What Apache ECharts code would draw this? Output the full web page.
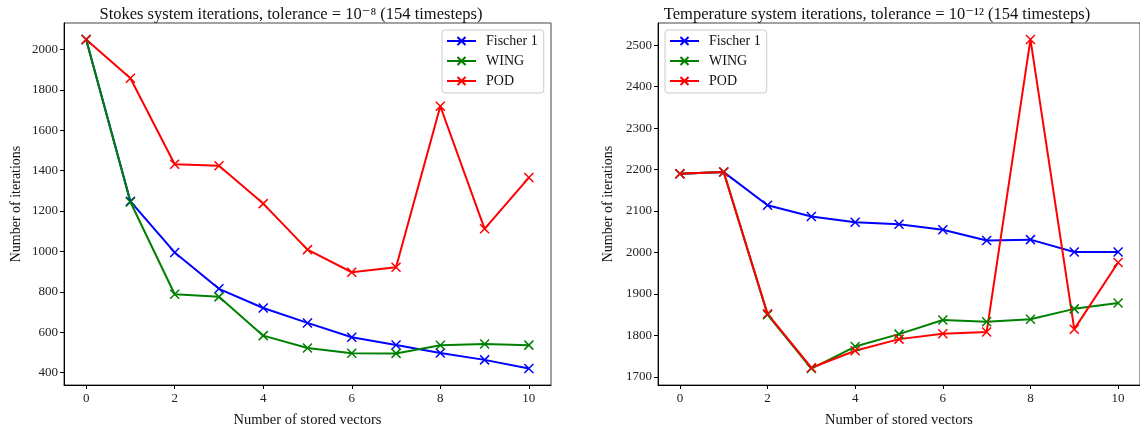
<!DOCTYPE html>
<html>
<head>
<meta charset="utf-8">
<script src="https://cdn.jsdelivr.net/npm/echarts@6/dist/echarts.min.js"></script>
<style>
  html, body { margin: 0; padding: 0; background: #fff; }
  #chart { width: 1140px; height: 434px; }
</style>
</head>
<body>
<div id="chart"></div>
<script>
// Number of stored vectors (x values shared by both panels)
var storedVectors = [0, 1, 2, 3, 4, 5, 6, 7, 8, 9, 10];

// Stokes system iterations (left panel)
var stokesFischer = [2050, 1248, 995, 815, 720, 646, 575, 537, 497, 463, 420];
var stokesWing = [2050, 1245, 788, 775, 583, 522, 496, 495, 535, 542, 536];
var stokesPod = [2050, 1858, 1432, 1424, 1237, 1009, 897, 922, 1719, 1112, 1366];

// Temperature system iterations (right panel)
var tempFischer = [2190, 2194, 2114, 2087, 2073, 2068, 2055, 2029, 2031, 2001, 2001];
var tempWing = [2190, 2194, 1850, 1720, 1773, 1803, 1837, 1833, 1839, 1864, 1878];
var tempPod = [2190, 2194, 1852, 1722, 1763, 1791, 1804, 1808, 2514, 1815, 1976];

// tick labels
var xTicks = [0, 2, 4, 6, 8, 10];
var stokesTicks = [400, 600, 800, 1000, 1200, 1400, 1600, 1800, 2000];
var tempTicks = [1700, 1800, 1900, 2000, 2100, 2200, 2300, 2400, 2500];

var seriesNames = ["Fischer 1", "WING", "POD"];
var colors = ["#0000ff", "#008000", "#ff0000"];

var FONT = "'Liberation Serif', 'DejaVu Serif', serif";
var CROSS = "path://M0,0L10,10M10,0L0,10";

// matplotlib style 5% margin around the data
function paddedRange(arrs) {
  var lo = Infinity, hi = -Infinity;
  arrs.forEach(function (a) {
    a.forEach(function (v) {
      if (v < lo) lo = v;
      if (v > hi) hi = v;
    });
  });
  var pad = (hi - lo) * 0.05;
  return [lo - pad, hi + pad];
}

function pairs(ys) {
  return ys.map(function (y, i) { return [storedVectors[i], y]; });
}

// plain numbers, no thousands separator
function plain(v) {
  return String(Math.round(v));
}

function makeXAxis(idx) {
  return {
    type: "value",
    gridIndex: idx,
    min: -0.5,
    max: 10.5,
    name: "Number of stored vectors",
    nameLocation: "middle",
    nameGap: 28,
    nameTextStyle: { fontFamily: FONT, fontSize: 14.5, color: "#111" },
    axisLine: { show: true, onZero: false, lineStyle: { color: "#000", width: 1 } },
    axisTick: { show: true, length: 4, customValues: xTicks, lineStyle: { color: "#000" } },
    axisLabel: { customValues: xTicks, formatter: plain, fontFamily: FONT, fontSize: 13, color: "#222", margin: 7 },
    splitLine: { show: false }
  };
}

function makeYAxis(idx, range, ticks, gap) {
  return {
    type: "value",
    gridIndex: idx,
    min: range[0],
    max: range[1],
    name: "Number of iterations",
    nameLocation: "middle",
    nameGap: gap,
    nameTextStyle: { fontFamily: FONT, fontSize: 14, color: "#111" },
    axisLine: { show: true, onZero: false, lineStyle: { color: "#000", width: 1 } },
    axisTick: { show: true, length: 4, customValues: ticks, lineStyle: { color: "#000" } },
    axisLabel: { customValues: ticks, formatter: plain, fontFamily: FONT, fontSize: 13, color: "#222", margin: 6 },
    splitLine: { show: false }
  };
}

function makeSeries(name, color, data, idx) {
  return {
    type: "line",
    name: name,
    xAxisIndex: idx,
    yAxisIndex: idx,
    data: pairs(data),
    symbol: CROSS,
    symbolSize: 9,
    lineStyle: { color: color, width: 2 },
    itemStyle: { color: color, borderColor: color, borderWidth: 1.5 },
    emphasis: { disabled: true },
    z: 3
  };
}

function makeLegend(left) {
  return {
    orient: "vertical",
    left: left,
    top: 30,
    data: seriesNames,
    itemWidth: 29,
    itemHeight: 10,
    itemGap: 6,
    padding: [4, 6, 5, 4],
    backgroundColor: "rgba(255,255,255,0.8)",
    borderColor: "#ccc",
    borderWidth: 1,
    borderRadius: 3,
    selectedMode: false,
    textStyle: { fontFamily: FONT, fontSize: 14, color: "#111", padding: [0, 0, 0, 5] }
  };
}

var chart = echarts.init(document.getElementById("chart"), null, { renderer: "canvas" });

var option = {
  animation: false,
  backgroundColor: "#fff",
  title: [
    {
      text: "Stokes system iterations, tolerance = 10\u207B\u2078 (154 timesteps)",
      left: 286,
      textAlign: "center",
      top: 1,
      textStyle: { fontFamily: FONT, fontSize: 16.5, fontWeight: "normal", color: "#111" }
    },
    {
      text: "Temperature system iterations, tolerance = 10\u207B\u00B9\u00B2 (154 timesteps)",
      left: 872,
      textAlign: "center",
      top: 1,
      textStyle: { fontFamily: FONT, fontSize: 16.5, fontWeight: "normal", color: "#111" }
    }
  ],
  legend: [makeLegend(442), makeLegend(665)],
  grid: [
    { left: 64, top: 23, width: 487, height: 362, show: true, borderColor: "#444", borderWidth: 1 },
    { left: 658, top: 23, width: 487, height: 362, show: true, borderColor: "#444", borderWidth: 1 }
  ],
  xAxis: [makeXAxis(0), makeXAxis(1)],
  yAxis: [
    makeYAxis(0, paddedRange([stokesFischer, stokesWing, stokesPod]), stokesTicks, 41),
    makeYAxis(1, paddedRange([tempFischer, tempWing, tempPod]), tempTicks, 43)
  ],
  series: [
    makeSeries(seriesNames[0], colors[0], stokesFischer, 0),
    makeSeries(seriesNames[1], colors[1], stokesWing, 0),
    makeSeries(seriesNames[2], colors[2], stokesPod, 0),
    makeSeries(seriesNames[0], colors[0], tempFischer, 1),
    makeSeries(seriesNames[1], colors[1], tempWing, 1),
    makeSeries(seriesNames[2], colors[2], tempPod, 1)
  ]
};

chart.setOption(option);
</script>
</body>
</html>
